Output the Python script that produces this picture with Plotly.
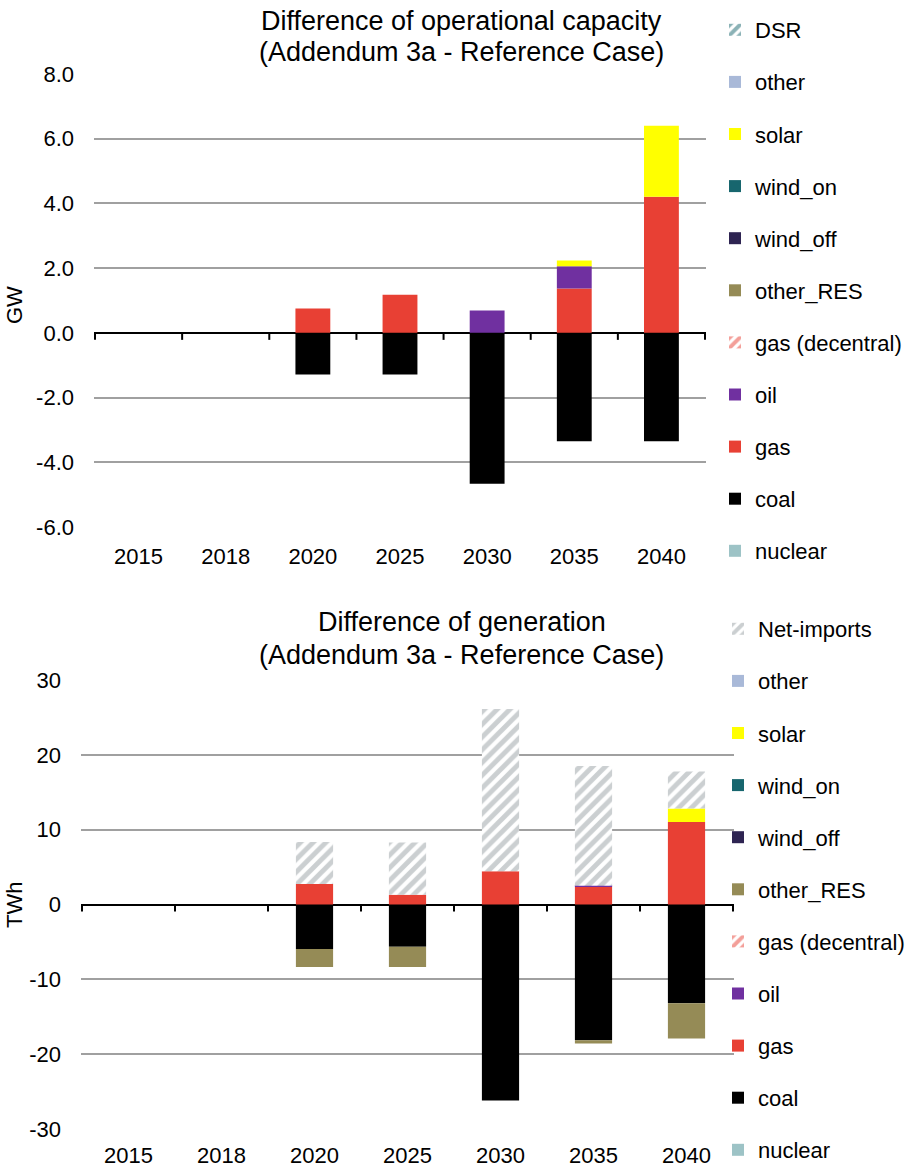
import plotly.graph_objects as go
from plotly.subplots import make_subplots

years = ['2015', '2018', '2020', '2025', '2030', '2035', '2040']

# difference of operational capacity (GW)
cap_nuclear = [0, 0, 0, 0, 0, 0, 0]
cap_coal = [0, 0, -1.29, -1.29, -4.66, -3.35, -3.35]
cap_gas = [0, 0, 0.75, 1.18, 0, 1.37, 4.21]
cap_oil = [0, 0, 0, 0, 0.69, 0.69, 0]
cap_gas_dec = [0, 0, 0, 0, 0, 0, 0]
cap_other_res = [0, 0, 0, 0, 0, 0, 0]
cap_wind_off = [0, 0, 0, 0, 0, 0, 0]
cap_wind_on = [0, 0, 0, 0, 0, 0, 0]
cap_solar = [0, 0, 0, 0, 0, 0.18, 2.19]
cap_other = [0, 0, 0, 0, 0, 0, 0]
cap_dsr = [0, 0, 0, 0, 0, 0, 0]
cap_tickvals = [-6, -4, -2, 0, 2, 4, 6, 8]
cap_ticktext = ['-6.0', '-4.0', '-2.0', '0.0', '2.0', '4.0', '6.0', '8.0']

# difference of generation (TWh)
gen_nuclear = [0, 0, 0, 0, 0, 0, 0]
gen_coal = [0, 0, -5.96, -5.64, -26.2, -18.13, -13.2]
gen_gas = [0, 0, 2.75, 1.29, 4.44, 2.4, 11.02]
gen_oil = [0, 0, 0, 0, 0, 0.1, 0]
gen_gas_dec = [0, 0, 0, 0, 0, 0, 0]
gen_other_res = [0, 0, -2.4, -2.72, 0, -0.45, -4.7]
gen_wind_off = [0, 0, 0, 0, 0, 0, 0]
gen_wind_on = [0, 0, 0, 0, 0, 0, 0]
gen_solar = [0, 0, 0, 0, 0, 0, 1.82]
gen_other = [0, 0, 0, 0, 0, 0, 0]
gen_net_imports = [0, 0, 5.61, 6.98, 21.69, 16.0, 4.94]
gen_tickvals = [-30, -20, -10, 0, 10, 20, 30]
gen_ticktext = ['-30', '-20', '-10', '0', '10', '20', '30']

FONT = 'Liberation Sans, Arial, sans-serif'

# name, colour, hatched?
styles = {
    'nuclear': ('#9DC3C6', False),
    'coal': ('#000000', False),
    'gas': ('#E84034', False),
    'oil': ('#7030A0', False),
    'gas (decentral)': ('#E84034', True),
    'other_RES': ('#958B56', False),
    'wind_off': ('#2E2452', False),
    'wind_on': ('#17666E', False),
    'solar': ('#FFFF00', False),
    'other': ('#A9B9D8', False),
    'DSR': ('#17666E', True),
    'Net-imports': ('#97A0A3', True),
}

top = [('nuclear', cap_nuclear), ('coal', cap_coal), ('gas', cap_gas), ('oil', cap_oil),
       ('gas (decentral)', cap_gas_dec), ('other_RES', cap_other_res), ('wind_off', cap_wind_off),
       ('wind_on', cap_wind_on), ('solar', cap_solar), ('other', cap_other), ('DSR', cap_dsr)]
bottom = [('nuclear', gen_nuclear), ('coal', gen_coal), ('gas', gen_gas), ('oil', gen_oil),
          ('gas (decentral)', gen_gas_dec), ('other_RES', gen_other_res), ('wind_off', gen_wind_off),
          ('wind_on', gen_wind_on), ('solar', gen_solar), ('other', gen_other),
          ('Net-imports', gen_net_imports)]


def marker_for(name):
    col, hatch = styles[name]
    if hatch:
        return dict(color='white', line=dict(width=0),
                    pattern=dict(shape='/', fgcolor=col, bgcolor='white', size=9, solidity=0.55))
    return dict(color=col, line=dict(width=0))


fig = make_subplots(rows=2, cols=1)

# legend lists the stack top-down, so the last trace gets the first rank
for i, (name, vals) in enumerate(top):
    fig.add_trace(go.Bar(x=years, y=vals, name=name, marker=marker_for(name),
                         legend='legend', legendgroup='t_' + name,
                         legendrank=100 - i), row=1, col=1)
for i, (name, vals) in enumerate(bottom):
    fig.add_trace(go.Bar(x=years, y=vals, name=name, marker=marker_for(name),
                         legend='legend2', legendgroup='b_' + name,
                         legendrank=100 - i), row=2, col=1)

# body margin is removed below, so the figure fills the window from (0, 0)
W, H = 913, 1169


def px(x):
    return x / W


def py(y):
    return 1 - y / H


axis_font = dict(family=FONT, size=22, color='black')
fig.update_xaxes(type='category', showgrid=False, showline=False, zeroline=False,
                 ticks='', ticklabelstandoff=14, tickfont=axis_font)
fig.update_yaxes(showgrid=True, gridcolor='#A0A0A0', gridwidth=2, showline=False,
                 zeroline=True, zerolinecolor='black', zerolinewidth=2,
                 ticks='', ticklabelstandoff=19, tickfont=axis_font)

fig.update_layout(
    xaxis=dict(domain=[px(94), px(706)]),
    xaxis2=dict(domain=[px(81), px(734)], ticklabelstandoff=11),
    yaxis=dict(domain=[py(527), py(74)], range=[-6, 8],
               tickmode='array', tickvals=cap_tickvals, ticktext=cap_ticktext),
    yaxis2=dict(domain=[py(1129), py(680)], range=[-30, 30],
                tickmode='array', tickvals=gen_tickvals, ticktext=gen_ticktext),
)

# tick marks on the zero line, at the category boundaries
shapes = []
for xr, yr in [('x', 'y'), ('x2', 'y2')]:
    for i in range(len(years) + 1):
        shapes.append(dict(type='line', xref=xr, yref=yr, x0=i - 0.5, x1=i - 0.5,
                           ysizemode='pixel', yanchor=0, y0=0, y1=-7,
                           line=dict(color='black', width=2)))

title_font = dict(family=FONT, size=27, color='black')
label_font = dict(family=FONT, size=22, color='black')
annotations = [
    dict(text='Difference of operational capacity', x=px(462), y=py(21)),
    dict(text='(Addendum 3a - Reference Case)', x=px(462), y=py(52)),
    dict(text='Difference of generation', x=px(462), y=py(622)),
    dict(text='(Addendum 3a - Reference Case)', x=px(462), y=py(655)),
]
for a in annotations:
    a.update(xref='paper', yref='paper', showarrow=False, xanchor='center', yanchor='middle',
             font=title_font)
annotations += [
    dict(text='GW', x=px(14), y=py(305), textangle=-90),
    dict(text='TWh', x=px(14), y=py(905), textangle=-90),
]
for a in annotations[4:]:
    a.update(xref='paper', yref='paper', showarrow=False, xanchor='center', yanchor='middle',
             font=label_font)

legend_style = dict(font=dict(family=FONT, size=22, color='black'), bgcolor='rgba(0,0,0,0)',
                    traceorder='grouped', tracegroupgap=20.5,
                    xanchor='left', yanchor='top')

fig.update_layout(
    width=W, height=H,
    margin=dict(l=0, r=0, t=0, b=0, autoexpand=False),
    paper_bgcolor='white', plot_bgcolor='white',
    barmode='relative', bargap=0.6,
    showlegend=True,
    legend=dict(x=px(715), y=py(9), **legend_style),
    legend2=dict(x=px(718), y=py(608), **legend_style),
    shapes=shapes,
    annotations=annotations,
    font=dict(family=FONT),
)

fig.write_html('out.html', config={'displayModeBar': False},
               post_script="document.body.style.margin='0px';")
